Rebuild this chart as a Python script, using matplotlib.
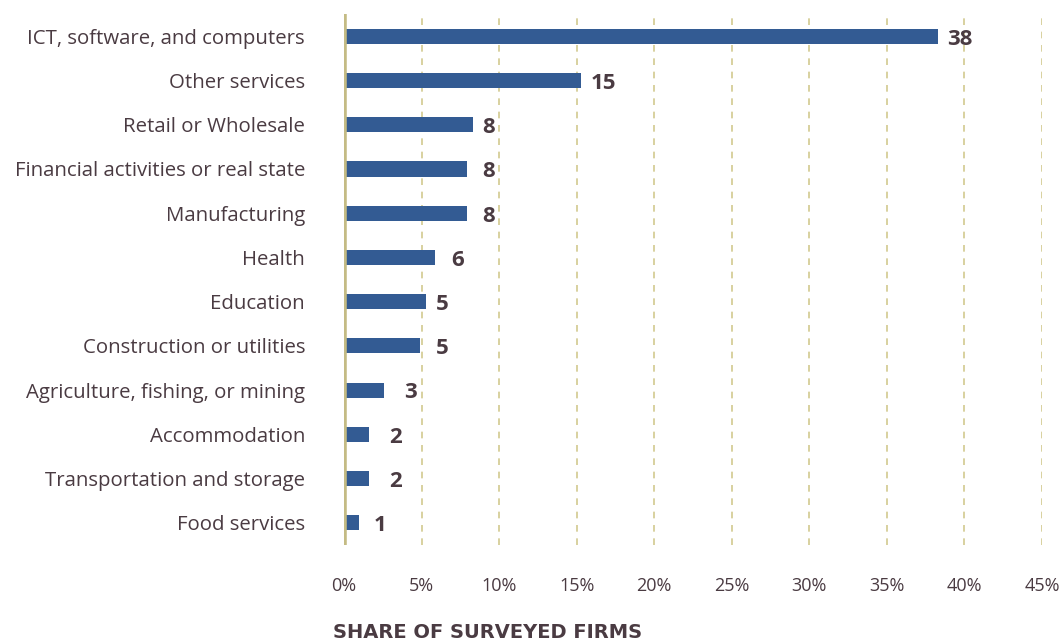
import numpy as np
import matplotlib
matplotlib.use("Agg")
import matplotlib.pyplot as plt

# Share of surveyed firms by sector (%)
sectors = [
    "ICT, software, and computers",
    "Other services",
    "Retail or Wholesale",
    "Financial activities or real state",
    "Manufacturing",
    "Health",
    "Education",
    "Construction or utilities",
    "Agriculture, fishing, or mining",
    "Accommodation",
    "Transportation and storage",
    "Food services",
]
shares = [38.3, 15.3, 8.3, 7.9, 7.9, 5.9, 5.3, 4.9, 2.6, 1.6, 1.6, 1.0]
xticks = [0, 5, 10, 15, 20, 25, 30, 35, 40, 45]

BAR = "#335b93"
TEXT = "#4a3b42"
GRID = "#d2c98f"
AXIS = "#c4bb84"

plt.rcParams["font.family"] = ["Open Sans", "DejaVu Sans"]

fig = plt.figure(figsize=(10.6, 6.42), dpi=100)
ax = fig.add_axes([0.3245, 0.151, 0.6585, 0.827])

y = np.arange(len(sectors))
ax.barh(y, shares, height=0.34, color=BAR, zorder=3)

for xi in xticks[1:]:
    ax.axvline(xi, color=GRID, lw=1.2, ls=(0, (4, 4)), zorder=1)
ax.axvline(0, color=AXIS, lw=4, zorder=4)

for yi, v in zip(y, shares):
    n = int(round(v))
    ax.annotate(f"{n}", xy=(n, yi), xytext=(10, -2), textcoords="offset points",
                ha="left", va="center", fontsize=16, fontweight="bold", color=TEXT)

ax.set_xlim(0, 45)
ax.set_ylim(len(sectors) - 0.5, -0.5)
ax.set_yticks(y)
ax.set_yticklabels(sectors, fontsize=14.7, color=TEXT)
ax.set_xticks(xticks)
ax.set_xticklabels([f"{t}%" for t in xticks], fontsize=13, color=TEXT)
ax.tick_params(axis="x", length=0, pad=23)
ax.tick_params(axis="y", length=0, pad=28)
for s in ax.spines.values():
    s.set_visible(False)

fig.text(333 / 1060, 1 - 632 / 642, "SHARE OF SURVEYED FIRMS", ha="left", va="center",
         fontsize=14, fontweight="bold", color=TEXT, family="DejaVu Sans")

fig.savefig("out.png", dpi=100, facecolor="white")
